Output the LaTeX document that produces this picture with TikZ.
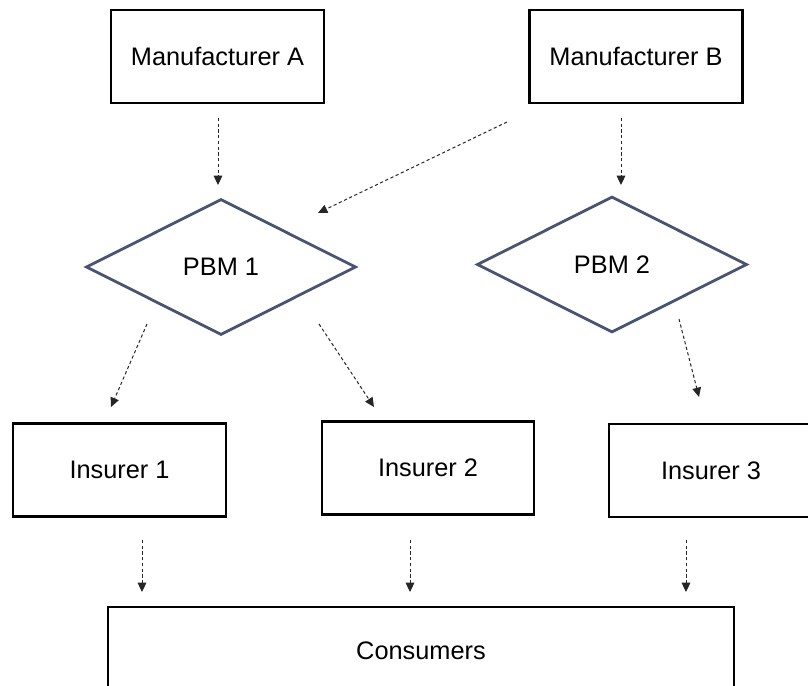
\documentclass[tikz,border=0pt]{standalone}
\usepackage{fontspec}
\setmainfont{Liberation Sans}
\usepackage{tikz}
\usetikzlibrary{shapes,shapes.geometric}
\usetikzlibrary{arrows.meta}
\definecolor{pbmline}{HTML}{4A5470}
\newcommand{\pxu}{0.75pt}

\begin{document}
\begin{tikzpicture}[x=0.75pt,y=-0.75pt,
		font=\fontsize{19pt}{23pt}\selectfont,
		party/.style={draw=black,line width=2.2pt,rectangle,inner sep=0pt,
			minimum width=213*\pxu,minimum height=93*\pxu},
		pbm/.style={draw=pbmline,line width=2.1pt,diamond,inner sep=0pt,
			minimum width=270*\pxu,minimum height=136*\pxu},
		flow/.style={draw=black!85,line width=0.75pt,dash pattern=on 2.4pt off 1.9pt,
			-{Triangle[length=7pt,width=6.5pt]}}]
			\clip (0,0) rectangle (808,686);
			% manufacturers
			\node[party] (mA) at (217.5,56.5) {Manufacturer A};
			\node[party] (mB) at (636,56.5) {Manufacturer B};
			% pbms
			\node[pbm] (pbm1) at (221,267) {PBM 1};
			\node[pbm] (pbm2) at (612,264.5) {PBM 2};
			% insurers
			\node[party] (ins1) at (119.5,470) {Insurer 1};
			\node[party,minimum width=212*\pxu] (ins2) at (428,468) {Insurer 2};
			\node[party,minimum width=204*\pxu] (ins3) at (711,470.5) {Insurer 3};
			\node[party,minimum width=626*\pxu,minimum height=88*\pxu] (cons) at (421,651) {Consumers};
			% arrow ends
			\coordinate (mA-out) at (218,118);
			\coordinate (pbm1-inA) at (218,185);
			\coordinate (mB-outL) at (507,122);
			\coordinate (pbm1-inB) at (318,213);
			\coordinate (mB-out) at (621,118);
			\coordinate (pbm2-in) at (621,185);
			\coordinate (pbm1-outL) at (147,324);
			\coordinate (ins1-in) at (111,407);
			\coordinate (pbm1-outR) at (319,324);
			\coordinate (ins2-in) at (374,407);
			\coordinate (pbm2-out) at (679,319);
			\coordinate (ins3-in) at (699,397);
			\coordinate (ins1-out) at (142,540);
			\coordinate (cons-in1) at (142,592);
			\coordinate (ins2-out) at (410,540);
			\coordinate (cons-in2) at (410,592);
			\coordinate (ins3-out) at (686,540);
			\coordinate (cons-in3) at (686,592);
			% flows
			\draw[flow] (mA-out) -- (pbm1-inA);
			\draw[flow] (mB-outL) -- (pbm1-inB);
			\draw[flow] (mB-out) -- (pbm2-in);
			\draw[flow] (pbm1-outL) -- (ins1-in);
			\draw[flow] (pbm1-outR) -- (ins2-in);
			\draw[flow] (pbm2-out) -- (ins3-in);
			\draw[flow] (ins1-out) -- (cons-in1);
			\draw[flow] (ins2-out) -- (cons-in2);
			\draw[flow] (ins3-out) -- (cons-in3);
		\end{tikzpicture}
\end{document}
